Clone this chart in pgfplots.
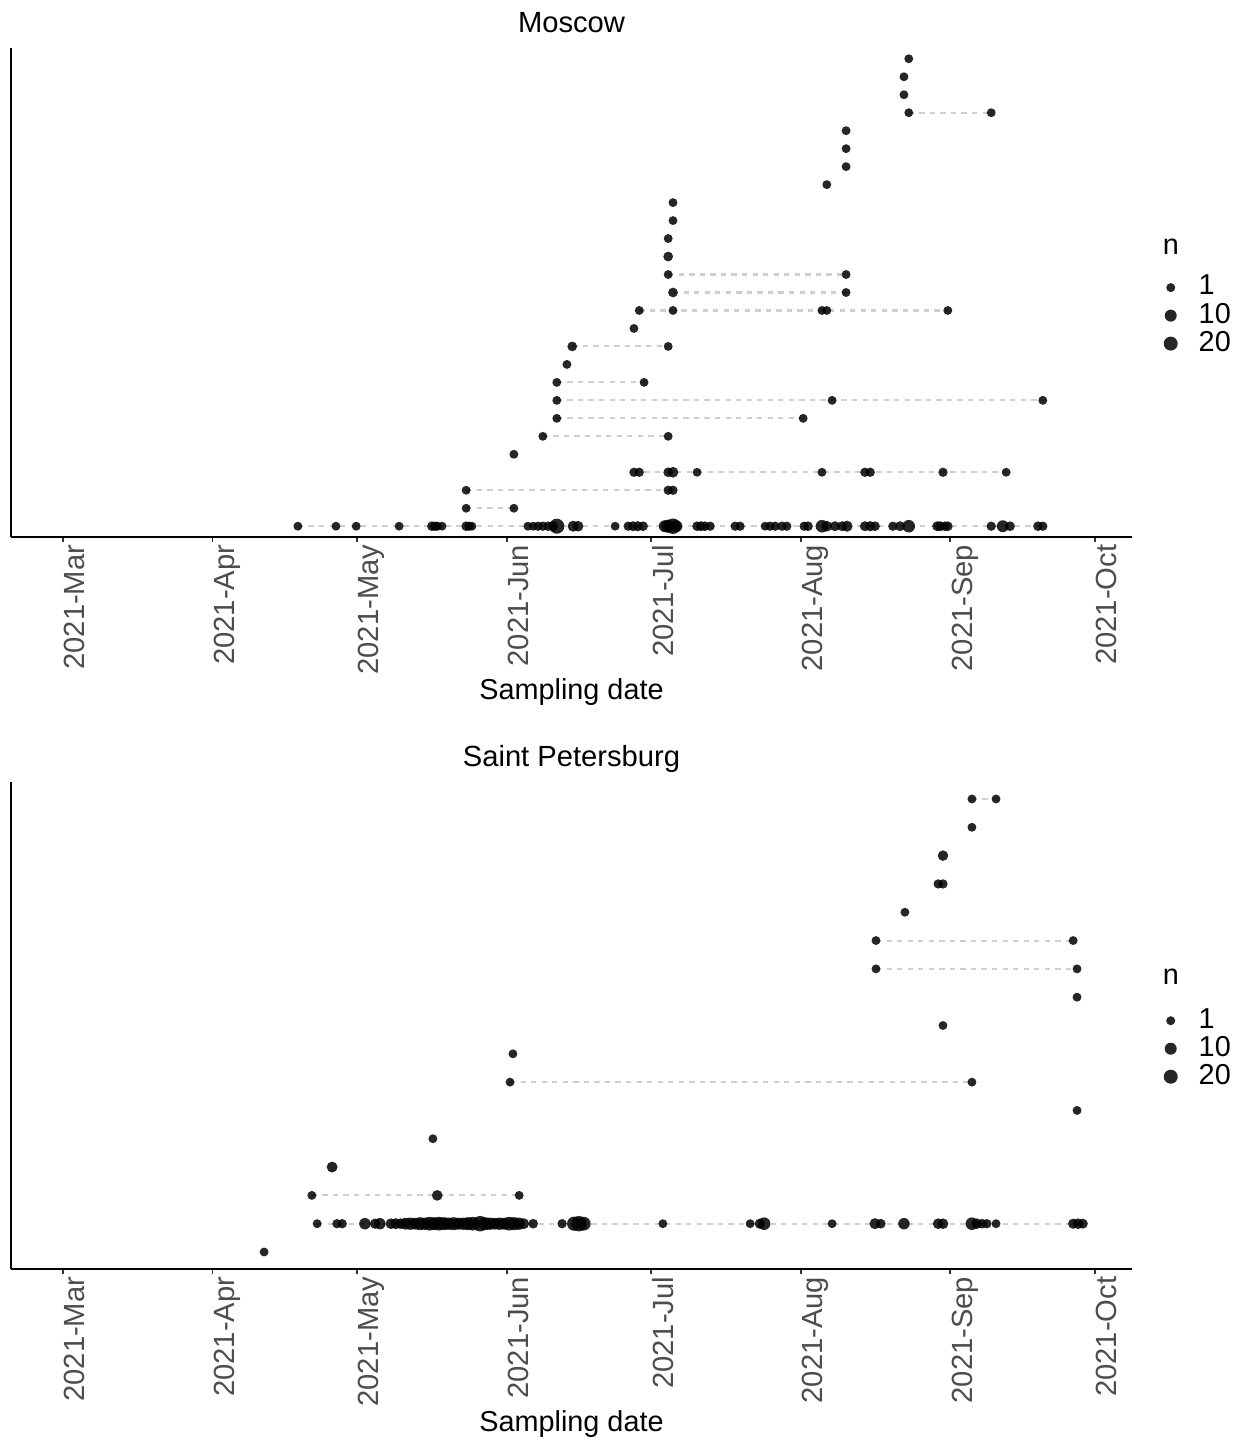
\documentclass[border=0pt]{standalone}
\usepackage{fontspec}
\setmainfont{Liberation Sans}
\usepackage{pgfplots}
\pgfplotsset{compat=1.18}
\usepackage{pgfplotstable}

\definecolor{ptcol}{HTML}{000000}
\definecolor{dashcol}{HTML}{CFCFCF}
\definecolor{ticklab}{HTML}{4D4D4D}

% x = days since 2021-03-01, y = row index, n = count
\pgfplotstableread{
x y n
48.7 1 2
56.6 1 2
60.8 1 2
69.7 1 2
76.5 1 4
77.1 1 3
77.6 1 3
78.6 1 2
83.6 1 4
84.2 1 3
84.8 1 2
96.4 1 2
97.5 1 2
98.5 1 3
99.5 1 3
100.6 1 4
101.6 1 6
102.4 1 45
105.8 1 10
106.8 1 8
114.5 1 2
117.2 1 3
118.2 1 5
119.2 1 6
120.3 1 4
124.8 1 15
125.5 1 25
126.5 1 50
127.2 1 15
131.5 1 4
132.3 1 5
133.1 1 4
134.2 1 3
139.4 1 3
140.4 1 3
145.6 1 2
146.6 1 3
147.7 1 3
149.1 1 3
150.1 1 3
153.7 1 3
154.5 1 4
157.4 1 20
158.4 1 8
160.1 1 5
161.6 1 5
162.6 1 10
166.3 1 5
167.4 1 6
168.4 1 4
172.1 1 3
173.6 1 5
175.4 1 20
181.3 1 5
181.9 1 5
182.9 1 4
183.5 1 4
192.5 1 3
194.9 1 15
196.4 1 4
202.2 1 4
203.2 1 3
83.6 2 2
93.5 2 2
83.6 3 2
125.5 3 3
126.5 3 3
118.4 4 3
119.5 4 3
125.5 4 4
126.5 4 8
131.5 4 2
157.4 4 2
166.3 4 3
167.4 4 3
182.5 4 3
195.6 4 2
93.5 5 2
99.5 6 2
125.5 6 2
102.4 7 2
153.5 7 2
102.4 8 2
159.5 8 2
203.2 8 2
102.4 9 2
120.5 9 2
104.5 10 2
105.6 11 4
125.5 11 2
118.4 12 2
119.5 13 2
126.5 13 2
157.4 13 2
158.4 13 2
183.5 13 2
126.5 14 4
162.4 14 2
125.5 15 2
162.4 15 2
125.5 16 4
125.5 17 2
126.5 18 2
126.5 19 2
158.4 20 2
162.4 21 2
162.4 22 2
162.4 23 2
175.4 24 2
192.5 24 2
174.4 25 2
174.4 26 2
175.4 27 2
}\moscow

\pgfplotstableread{
x y n
41.7 1 2
52.7 2 2
56.8 2 3
57.9 2 3
62.6 2 12
64.7 2 6
65.7 2 12
68 2 8
69 2 10
70 2 8
71 2 14
72 2 18
73 2 14
74 2 24
75 2 18
76 2 30
77 2 24
78 2 30
79 2 24
80 2 18
81 2 24
82 2 16
83 2 18
84 2 24
85 2 30
86.5 2 50
87.5 2 24
88.5 2 18
89.5 2 14
90.5 2 18
91.5 2 16
92.5 2 30
93.5 2 24
94.5 2 18
95.5 2 10
97.5 2 4
103.5 2 3
106 2 35
107 2 50
108 2 30
124.4 2 2
142.5 2 2
144.5 2 6
145.4 2 20
159.5 2 2
168.4 2 10
169.6 2 4
174.4 2 12
181.5 2 8
182.5 2 8
188.5 2 20
189.5 2 8
190.6 2 4
191.6 2 3
193.5 2 2
209.5 2 6
210.5 2 8
211.5 2 5
51.6 3 2
77.6 3 8
94.6 3 2
55.8 4 9
76.7 5 2
210.3 6 2
92.7 7 2
188.5 7 2
93.3 8 2
182.5 9 2
210.3 10 2
168.6 11 2
210.3 11 2
168.6 12 2
209.5 12 2
174.6 13 2
181.5 14 3
182.5 14 3
182.5 15 7
188.5 16 2
188.5 17 2
193.5 17 2
}\spb

\pgfplotsset{
 panel/.style={
  scale only axis, width=112.1mm,
  xmin=-10.8, xmax=221.7,
  axis x line=bottom, axis y line=left,
  axis line style={-, black, line width=0.55pt},
  ytick=\empty,
  xtick={0,31,61,92,122,153,184,214},
  xticklabels={2021-Mar,2021-Apr,2021-May,2021-Jun,2021-Jul,2021-Aug,2021-Sep,2021-Oct},
  xticklabel style={rotate=90, anchor=north east, inner xsep=0.6pt, inner ysep=0.2pt,
     font=\fontsize{8.3}{10}\selectfont, text=ticklab},
  tick align=outside, major tick length=1.42pt, tick style={black!80, line width=0.5pt},
  xlabel={Sampling date},
  every axis x label/.style={at={(axis description cs:0.5,0)}, anchor=base, yshift=-46.2pt, font=\fontsize{8.2}{10}\selectfont},
  every axis title/.style={at={(axis description cs:0.5,1)}, anchor=base, yshift=4.3pt, font=\fontsize{8.3}{10}\selectfont},
  clip=false,
  legend style={at={(1.025,0.54)}, anchor=north west, draw=none, fill=none, inner sep=0pt,
    font=\fontsize{8.2}{9}\selectfont, column sep=1.8mm, row sep=0pt,
    nodes={inner sep=0pt, anchor=west}, cells={anchor=west}},
 },
 pts/.style={scatter, only marks, mark=*, forget plot,
   scatter/use mapped color={draw=ptcol, fill=ptcol},
   fill opacity=0.85, draw opacity=0,
   visualization depends on={(3.9+0.55*sqrt(\thisrow{n}-1))*0.28453 \as \msize},
   scatter/@pre marker code/.append style={/tikz/mark size=\msize}},
 seg/.style={forget plot, draw=dashcol, line width=0.6pt, dash pattern=on 1.5pt off 1.5pt, mark=none},
 sizeleg/.style={legend image code/.code={\path[draw=none, fill=none] (-1mm,-1.4mm) rectangle (1mm,1.4mm); \fill[ptcol, fill opacity=0.85, draw=none] (0,0) circle (#1);}},
}

\begin{document}
\begin{tikzpicture}
\path[use as bounding box] (0,0) rectangle (124.7mm,144mm);

% ---------------- Moscow ----------------
\begin{axis}[panel, at={(1.1mm,90.3mm)}, anchor=south west, height=48.9mm,
  ymin=0.4, ymax=27.6, title=Moscow]
\addlegendimage{sizeleg=0.45mm}\addlegendentry{1}
\addlegendimage{sizeleg=0.6mm}\addlegendentry{10}
\addlegendimage{sizeleg=0.7mm}\addlegendentry{20}
\addplot[seg] coordinates {(48.7,1) (203.2,1)};
\addplot[seg] coordinates {(83.6,2) (93.5,2)};
\addplot[seg] coordinates {(83.6,3) (126.5,3)};
\addplot[seg] coordinates {(118.4,4) (195.6,4)};
\addplot[seg] coordinates {(99.5,6) (125.5,6)};
\addplot[seg] coordinates {(102.4,7) (153.5,7)};
\addplot[seg] coordinates {(102.4,8) (203.2,8)};
\addplot[seg] coordinates {(102.4,9) (120.5,9)};
\addplot[seg] coordinates {(105.6,11) (125.5,11)};
\addplot[seg] coordinates {(119.5,13) (183.5,13)};
\addplot[seg] coordinates {(126.5,14) (162.4,14)};
\addplot[seg] coordinates {(125.5,15) (162.4,15)};
\addplot[seg] coordinates {(175.4,24) (192.5,24)};
\addplot[pts] table[x=x, y=y] {\moscow};
\node[anchor=base west, inner sep=0pt, font=\fontsize{8.2}{10}\selectfont] at (rel axis cs:1.027,0.577) {n};
\end{axis}

% ---------------- Saint Petersburg ----------------
\begin{axis}[panel, at={(1.1mm,17.1mm)}, anchor=south west, height=48.7mm,
  ymin=0.4, ymax=17.6, title={Saint Petersburg}]
\addlegendimage{sizeleg=0.45mm}\addlegendentry{1}
\addlegendimage{sizeleg=0.6mm}\addlegendentry{10}
\addlegendimage{sizeleg=0.7mm}\addlegendentry{20}
\addplot[seg] coordinates {(52.7,2) (211.5,2)};
\addplot[seg] coordinates {(51.6,3) (94.6,3)};
\addplot[seg] coordinates {(92.7,7) (188.5,7)};
\addplot[seg] coordinates {(168.6,11) (210.3,11)};
\addplot[seg] coordinates {(168.6,12) (209.5,12)};
\addplot[seg] coordinates {(181.5,14) (182.5,14)};
\addplot[seg] coordinates {(188.5,17) (193.5,17)};
\addplot[pts] table[x=x, y=y] {\spb};
\node[anchor=base west, inner sep=0pt, font=\fontsize{8.2}{10}\selectfont] at (rel axis cs:1.027,0.585) {n};
\end{axis}
\end{tikzpicture}
\end{document}
